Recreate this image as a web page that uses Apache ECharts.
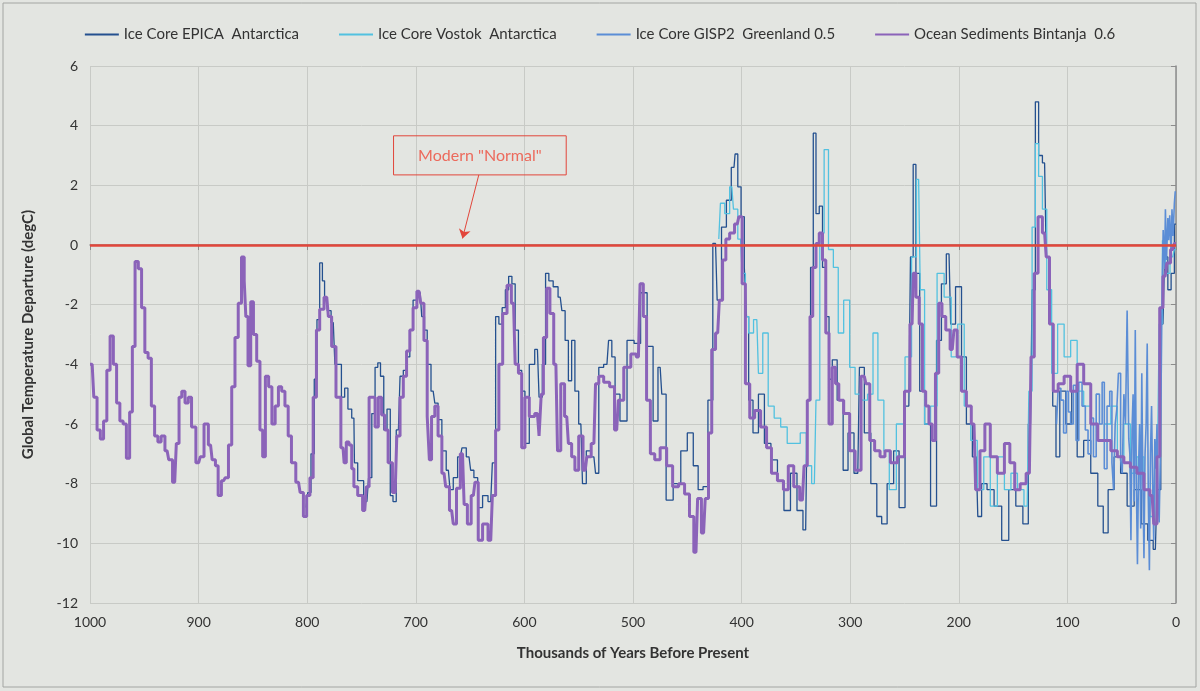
<!DOCTYPE html>
<html>
<head>
<meta charset="utf-8">
<script src="https://cdn.jsdelivr.net/npm/echarts@6/dist/echarts.min.js"></script>
<style>
  html, body { margin: 0; padding: 0; background: #e3e5e1; }
  #chart { width: 1200px; height: 691px; }
</style>
</head>
<body>
<div id="chart"></div>
<script>
// values (ka before present, degC departure)
const bintanjaAge = [1000, 998, 995, 992, 989, 986, 983, 980, 977, 974, 971, 968, 965, 962, 960, 957, 954, 951, 948, 945,
  942, 939, 936, 933, 929, 926, 922, 919, 917, 914, 911, 908, 905, 900, 897, 893, 889, 886, 883, 881,
  877, 874, 871, 868, 865, 862, 859, 857, 856, 853, 851, 848, 845, 842, 840, 837, 834, 831, 828, 825,
  822, 819, 816, 813, 808, 805, 802, 799, 796, 793, 790, 787, 782, 779, 776, 771, 767, 765, 763, 760,
  758, 756, 751, 747, 744, 742, 739, 736, 733, 730, 727, 724, 719, 716, 713, 710, 707, 704, 701, 697,
  694, 691, 688, 687, 684, 681, 678, 674, 671, 667, 664, 661, 657, 654, 651, 647, 644, 641, 636, 631,
  628, 625, 622, 618, 614, 610, 607, 604, 601, 598, 593, 588, 585, 584, 581, 578, 575, 571, 568, 565,
  561, 558, 555, 552, 548, 544, 541, 536, 533, 530, 524, 519, 515, 512, 505, 499, 495, 492, 489, 486,
  482, 478, 472, 466, 461, 455, 450, 446, 442, 439, 435, 432, 429, 426, 422, 419, 416, 413, 409, 404,
  401, 398, 395, 390, 386, 379, 375, 370, 364, 359, 355, 349, 344, 341, 338, 336, 333, 330, 327, 324,
  321, 318, 315, 312, 309, 303, 298, 293, 287, 284, 280, 275, 270, 266, 260, 253, 247, 243, 241, 238,
  235, 232, 229, 226, 223, 220, 217, 214, 210, 206, 203, 200, 195, 191, 186, 183, 178, 174, 168, 161,
  155, 151, 146, 141, 135, 132, 129, 125, 121, 118, 115, 111, 106, 100, 94, 88, 82, 75, 69, 63,
  57, 51, 45, 39, 33, 26, 22, 19, 16, 14, 10, 7, 3, 0];
const bintanjaTemp = [-4.0, -4.0, -5.1, -6.2, -6.5, -5.9, -4.2, -3.05, -4.0, -5.3, -5.9, -6.0, -7.15, -5.6, -3.4, -0.55, -0.8, -2.1, -3.6, -3.8,
  -5.4, -6.4, -6.6, -6.4, -6.9, -7.2, -7.95, -6.65, -5.1, -4.9, -5.3, -5.1, -6.1, -7.3, -7.1, -6.0, -6.7, -7.2, -7.4, -8.4,
  -7.9, -7.8, -6.7, -4.75, -3.1, -1.95, -0.4, -1.2, -2.4, -4.05, -1.9, -3.0, -3.9, -6.2, -7.1, -4.4, -4.75, -6.0, -5.4, -4.75,
  -4.9, -5.4, -6.4, -7.3, -7.95, -8.3, -9.1, -8.4, -7.8, -5.1, -2.85, -2.15, -1.75, -2.4, -3.4, -5.1, -6.8, -7.3, -6.6, -6.7,
  -7.5, -8.1, -8.4, -8.9, -8.1, -5.1, -5.1, -6.1, -5.1, -5.7, -6.2, -7.3, -8.3, -6.4, -5.1, -4.4, -3.55, -2.85, -2.1, -1.55,
  -1.95, -3.2, -5.75, -7.2, -5.75, -5.4, -6.4, -7.65, -8.1, -8.9, -9.35, -8.15, -7.0, -8.7, -9.35, -8.4, -7.95, -9.9, -9.35, -9.9,
  -8.4, -6.2, -4.0, -2.3, -1.35, -1.95, -4.0, -4.3, -6.8, -5.1, -5.75, -5.65, -6.4, -5.0, -3.1, -1.45, -2.3, -4.0, -6.9, -4.65,
  -5.75, -6.65, -7.1, -7.55, -6.4, -7.55, -7.1, -6.65, -4.65, -4.4, -4.6, -4.75, -6.2, -5.2, -4.1, -3.65, -3.75, -1.3, -2.4, -5.2,
  -7.0, -7.2, -6.8, -7.4, -8.1, -8.0, -8.35, -9.1, -10.3, -8.5, -9.65, -8.5, -6.3, -3.5, -2.95, -1.85, -0.5, 0.2, 0.4, 0.7,
  0.95, -1.3, -4.65, -5.8, -5.55, -6.1, -6.8, -7.65, -7.9, -8.2, -7.4, -8.1, -8.55, -7.4, -5.2, -2.4, -0.75, 0.05, 0.4, -0.5,
  -2.95, -6.0, -4.1, -4.65, -5.2, -5.65, -6.9, -7.55, -4.4, -4.65, -6.55, -6.9, -7.1, -6.9, -7.3, -7.1, -4.9, -2.65, -0.95, -1.75,
  -2.65, -4.9, -5.4, -6.0, -6.55, -4.3, -1.95, -2.4, -2.85, -3.5, -2.85, -3.75, -4.9, -5.4, -6.0, -8.2, -6.9, -6.0, -7.1, -7.65,
  -6.65, -7.3, -8.2, -8.0, -7.65, -3.75, -0.95, 0.95, 0.4, -0.4, -2.65, -4.9, -4.65, -4.4, -4.9, -4.0, -4.65, -6.0, -6.55, -6.55,
  -6.9, -7.1, -7.3, -7.45, -7.65, -8.2, -8.4, -9.35, -7.1, -2.1, -1.05, -0.6, -0.15, 0.05];

const epicaAge = [801, 798, 795, 792, 790, 787, 785, 783, 780, 776, 773, 770, 767, 764, 761, 757, 756, 751, 745, 742,
  739, 736, 734, 731, 728, 725, 722, 720, 716, 713, 710, 707, 704, 701, 696, 693, 691, 688, 684, 681,
  678, 674, 670, 667, 664, 659, 656, 651, 648, 645, 641, 636, 631, 628, 625, 622, 619, 616, 613, 610,
  607, 604, 601, 598, 593, 588, 585, 582, 579, 576, 571, 567, 564, 561, 558, 555, 552, 548, 545, 541,
  536, 533, 530, 524, 521, 518, 515, 509, 502, 496, 490, 484, 479, 475, 472, 467, 459, 453, 447, 442,
  438, 433, 429, 424, 421, 416, 412, 407, 405, 402, 399, 396, 395, 392, 387, 382, 376, 370, 364, 358,
  352, 346, 341, 338, 335, 333, 330, 327, 324, 321, 318, 315, 309, 304, 300, 293, 290, 284, 278, 273,
  269, 263, 257, 253, 246, 243, 241, 238, 234, 229, 223, 218, 214, 209, 206, 200, 195, 191, 184, 181,
  177, 171, 164, 157, 151, 144, 138, 134, 131, 128, 125, 121, 118, 115, 112, 109, 105, 98, 94, 88,
  82, 75, 69, 65, 60, 54, 48, 42, 35, 29, 23, 19, 16, 12, 9, 6, 3, 0];
const epicaTemp = [-8.8, -8.3, -7.0, -4.5, -2.5, -0.6, -1.2, -1.8, -2.2, -2.6, -4.0, -4.0, -5.1, -4.8, -5.5, -5.8, -7.3, -7.9, -8.6, -7.8,
  -5.65, -4.1, -3.95, -4.4, -6.2, -5.5, -8.4, -8.6, -6.2, -4.4, -4.2, -3.75, -2.85, -1.85, -1.6, -2.4, -2.85, -4.0, -4.9, -5.3,
  -5.85, -6.9, -7.55, -8.2, -7.8, -7.1, -6.8, -7.1, -7.55, -7.8, -8.8, -8.4, -8.6, -7.3, -2.4, -2.65, -2.1, -1.5, -1.05, -1.3,
  -2.85, -4.2, -4.9, -6.65, -4.0, -3.5, -5.1, -4.0, -0.95, -1.2, -1.4, -1.75, -2.2, -3.2, -4.55, -3.2, -4.9, -6.0, -8.0, -6.9,
  -7.1, -7.65, -4.1, -4.0, -3.2, -3.75, -5.0, -5.9, -3.2, -3.3, -1.6, -3.4, -5.9, -4.1, -5.0, -8.55, -8.0, -6.9, -6.3, -7.4,
  -8.2, -8.1, -5.2, 0.05, -1.85, 0.6, 1.5, 2.6, 3.05, 1.95, 0.95, -0.75, -2.4, -5.2, -6.3, -5.0, -6.65, -7.2, -7.9, -8.9,
  -7.65, -8.9, -9.55, -5.2, -0.75, 3.75, 1.05, 1.3, -0.75, -2.4, -4.5, -3.85, -5.2, -7.55, -6.3, -7.65, -4.1, -6.3, -8.0, -9.1,
  -9.35, -8.0, -6.9, -8.8, -5.4, -0.4, 2.7, -0.95, -4.9, -6.0, -8.75, -3.2, -1.3, -0.3, -2.65, -1.4, -3.75, -6.0, -7.1, -9.1,
  -8.0, -8.2, -8.75, -9.9, -8.2, -8.75, -9.35, -6.0, -1.5, 4.8, 3.0, 2.75, -0.4, -2.65, -5.4, -7.1, -4.9, -6.0, -4.9, -7.1,
  -6.55, -7.65, -8.75, -9.65, -8.2, -7.1, -7.65, -8.75, -8.2, -9.35, -9.9, -10.2, -8.2, -2.65, -0.4, -1.5, -0.95, 0.7];

const vostokAge = [421, 418, 413, 409, 406, 401, 398, 395, 392, 386, 383, 378, 373, 367, 361, 355, 349, 343, 338, 333,
  330, 326, 322, 318, 313, 309, 303, 298, 293, 287, 281, 277, 272, 266, 262, 253, 246, 241, 237, 234,
  229, 223, 217, 210, 204, 198, 192, 186, 180, 174, 168, 161, 155, 149, 143, 137, 134, 131, 128, 125,
  121, 117, 112, 106, 100, 94, 88, 82, 75, 69, 63, 57, 51, 45, 39, 33, 26, 22, 17, 14,
  11, 8, 3, 0];
const vostokTemp = [0.2, 1.4, 1.05, 1.95, 1.2, 0.2, -0.95, -2.4, -2.95, -2.5, -4.3, -2.95, -5.4, -5.8, -6.1, -6.65, -6.65, -6.3, -7.4, -8.0,
  -5.2, 0.4, 3.2, -0.15, -0.75, -2.95, -1.85, -4.1, -5.0, -5.2, -5.0, -2.95, -5.2, -6.9, -8.2, -6.0, -3.75, -0.4, 2.2, -1.5,
  -6.0, -5.4, -0.95, -1.75, -3.75, -2.65, -5.4, -6.55, -8.2, -7.1, -8.75, -7.1, -8.2, -7.65, -8.2, -8.75, -4.9, 0.6, 3.4, 2.3,
  1.2, -1.5, -4.3, -2.65, -3.75, -3.2, -4.9, -5.4, -6.0, -6.55, -6.0, -5.4, -7.1, -6.0, -7.65, -7.1, -8.2, -9.1, -7.1, -2.65,
  0.15, -0.95, -0.4, -0.15];

const gispAge = [110, 107, 105, 102, 100, 98, 96, 93, 91, 88, 85, 82, 80, 77, 75, 72, 69, 67, 65, 62,
  60, 58, 57, 55, 54, 52, 50, 49, 47, 46, 44, 43, 42, 41, 40, 39, 38, 37, 36, 35,
  34, 33, 32, 31, 30, 29, 28, 27, 26, 25, 24, 23, 22, 21, 20, 19, 18, 17, 16, 15,
  14, 13, 12.6, 11, 10, 9.5, 8, 7, 6.5, 5, 4, 3.4, 2, 1, 0.4];
const gispTemp = [-6.0, -4.8, -5.2, -6.3, -4.9, -5.6, -6.0, -4.7, -6.55, -4.6, -5.4, -6.2, -7.0, -5.8, -7.1, -5.0, -6.0, -4.6, -7.5, -5.4,
  -4.9, -7.3, -8.2, -6.0, -5.5, -4.3, -7.2, -7.65, -5.0, -6.0, -2.2, -6.5, -7.0, -9.9, -6.2, -5.0, -8.6, -2.85, -8.0, -10.7,
  -7.5, -6.0, -9.5, -4.3, -8.0, -10.5, -7.0, -6.0, -3.3, -8.5, -10.9, -7.0, -5.4, -8.0, -9.9, -6.5, -7.5, -6.0, -8.5, -9.3,
  -7.2, -4.0, -1.5, 0.5, -0.8, 1.2, -0.5, 0.9, 0.16, 1.0, -0.3, 1.2, 0.3, 1.4, 1.8];

const seriesNames = ['Ice Core EPICA  Antarctica', 'Ice Core Vostok  Antarctica', 'Ice Core GISP2  Greenland 0.5', 'Ocean Sediments Bintanja  0.6'];
const noteText = 'Modern "Normal"';

const pairs = (ages, temps) => ages.map((a, i) => [a, temps[i]]);
const red = '#e2463b';
const font = 'Lato';

const chart = echarts.init(document.getElementById('chart'));

const lineSeries = (name, data, color, width) => ({
  name: name,
  type: 'line',
  data: data,
  step: 'middle',
  symbol: 'none',
  showSymbol: false,
  lineStyle: { color: color, width: width },
  itemStyle: { color: color },
  silent: true
});

const bintanja = lineSeries(seriesNames[3], pairs(bintanjaAge, bintanjaTemp), '#8b63b9', 3);
bintanja.markLine = {
  silent: true,
  symbol: ['none', 'none'],
  label: { show: false },
  data: [
    { yAxis: 0, lineStyle: { color: red, width: 2.5, type: 'solid' } },
    [
      { coord: [642, 2.35], symbol: 'none', lineStyle: { color: red, width: 1, type: 'solid' } },
      { coord: [657, 0.22], symbol: 'arrow', symbolSize: 9 }
    ]
  ]
};
bintanja.markArea = {
  silent: true,
  itemStyle: { color: 'rgba(0,0,0,0)', borderColor: red, borderWidth: 1 },
  label: { show: true, position: 'inside', color: '#ec6a5c', fontFamily: font, fontSize: 16 },
  data: [[
    { name: noteText, coord: [720.5, 3.66] },
    { coord: [561.5, 2.35] }
  ]]
};

chart.setOption({
  animation: false,
  backgroundColor: '#e3e5e1',
  textStyle: { fontFamily: font },
  graphic: [{
    type: 'rect',
    shape: { x: 3, y: 3, width: 1193, height: 684 },
    style: { fill: 'none', stroke: '#a3a5a2', lineWidth: 1 },
    silent: true
  }],
  legend: {
    top: 22,
    left: 'center',
    icon: 'rect',
    itemWidth: 34,
    itemHeight: 2,
    itemGap: 40,
    textStyle: { fontFamily: font, fontSize: 15, color: '#333' },
    data: seriesNames
  },
  grid: { left: 90, right: 24, top: 66, bottom: 88, containLabel: false },
  xAxis: {
    type: 'value',
    inverse: true,
    min: 0,
    max: 1000,
    interval: 100,
    name: 'Thousands of Years Before Present',
    nameLocation: 'middle',
    nameGap: 43,
    nameTextStyle: { fontFamily: font, fontSize: 15, fontWeight: 'bold', color: '#333' },
    axisLine: { show: true, lineStyle: { color: '#8c8c8c', width: 1.5 } },
    axisTick: { show: true, length: 5, lineStyle: { color: '#8c8c8c' } },
    axisLabel: { fontFamily: font, fontSize: 14, color: '#333', margin: 12, formatter: v => String(v) },
    splitLine: { show: true, lineStyle: { color: '#c8cac6', width: 1 } }
  },
  yAxis: {
    type: 'value',
    min: -12,
    max: 6,
    interval: 2,
    name: 'Global Temperature Departure (degC)',
    nameLocation: 'middle',
    nameGap: 54,
    nameTextStyle: { fontFamily: font, fontSize: 15, fontWeight: 'bold', color: '#333' },
    axisLine: { show: true, lineStyle: { color: '#8c8c8c', width: 1.5 } },
    axisTick: { show: true, length: 5, lineStyle: { color: '#8c8c8c' } },
    axisLabel: { fontFamily: font, fontSize: 14, color: '#333', margin: 12 },
    splitLine: { show: true, lineStyle: { color: '#c8cac6', width: 1 } }
  },
  series: [
    lineSeries(seriesNames[0], pairs(epicaAge, epicaTemp), '#24508f', 1.3),
    lineSeries(seriesNames[1], pairs(vostokAge, vostokTemp), '#52c1e0', 1.3),
    lineSeries(seriesNames[2], pairs(gispAge, gispTemp), '#5b8dd6', 1.6),
    bintanja
  ]
});
</script>
</body>
</html>
